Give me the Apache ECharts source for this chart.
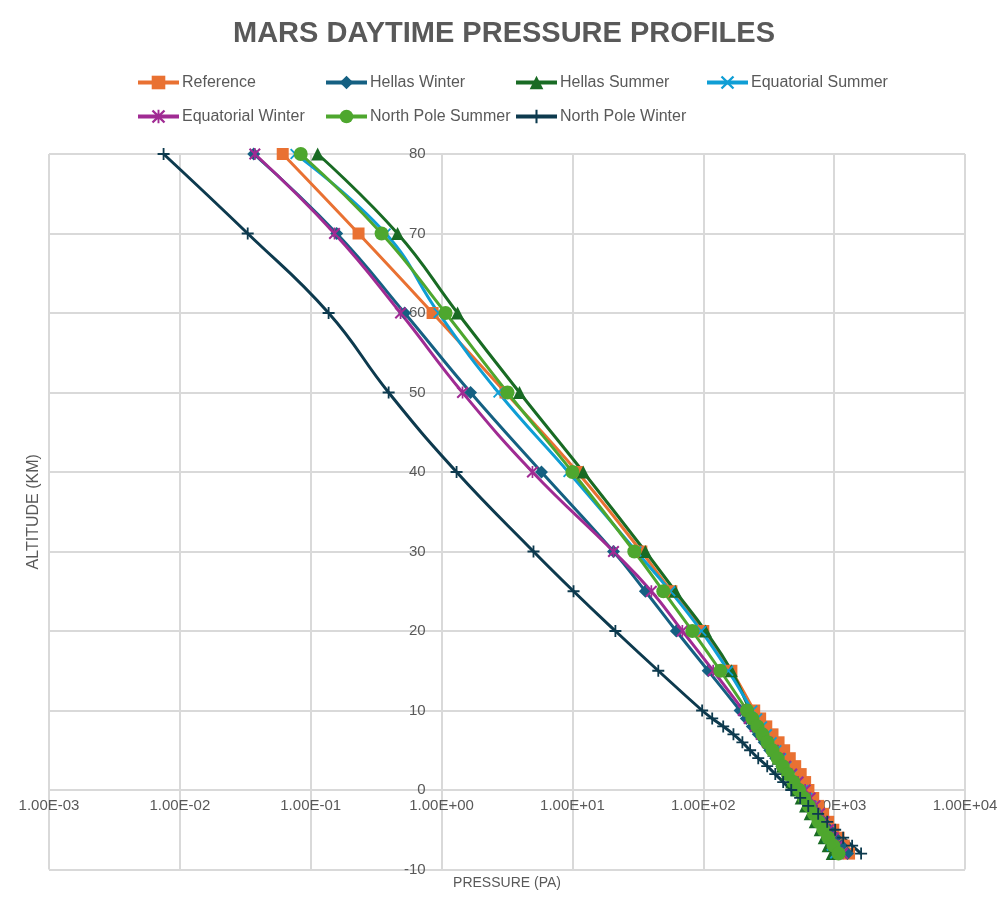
<!DOCTYPE html>
<html><head><meta charset="utf-8">
<script src="https://cdn.jsdelivr.net/npm/echarts@6/dist/echarts.min.js"></script>
<style>html,body{margin:0;padding:0;background:#fff}#c{width:1008px;height:913px}</style>
</head><body><div id="c"></div>
<script>
// Altitude levels (km), shared by all profiles
const altitudes = [80, 70, 60, 50, 40, 30, 25, 20, 15, 10, 9, 8, 7, 6, 5, 4, 3, 2, 1, 0, -1, -2, -3, -4, -5, -6, -7, -8];

// Pressure values (Pa)
const reference        = [0.0611, 0.232, 0.854, 3.08, 10.9, 33.6, 57, 100, 164, 245, 272, 303, 338, 376, 415, 458, 504, 555, 600, 636, 692, 755, 824, 900, 985, 1080, 1185, 1300];
const hellasWinter     = [0.0367, 0.158, 0.522, 1.665, 5.80, 20.6, 36.1, 62.2, 109, 191, 213, 237, 263, 292, 322, 357, 398, 442, 490, 545, 605, 672, 748, 830, 922, 1025, 1140, 1265];
const hellasSummer     = [0.113, 0.461, 1.325, 3.94, 12.1, 36.1, 61.1, 104, 164, 228, 248, 270, 293, 318, 345, 373, 403, 436, 474, 518, 560, 605, 656, 716, 782, 839, 900, 966];
const equatorialSummer = [0.0765, 0.374, 0.949, 2.72, 9.32, 30.8, 56, 96.6, 155, 237, 258, 281, 306, 333, 362, 394, 432, 478, 527, 580, 625, 672, 722, 776, 834, 896, 958, 1018];
const equatorialWinter = [0.0374, 0.152, 0.486, 1.446, 4.95, 20.6, 40.1, 69.2, 119, 202, 224, 249, 277, 308, 343, 382, 425, 473, 530, 600, 655, 712, 772, 836, 905, 985, 1070, 1160];
const northPoleSummer  = [0.0839, 0.348, 1.073, 3.19, 10.0, 29.7, 49.5, 82.4, 135, 216, 237, 259, 283, 309, 338, 370, 405, 443, 489, 540, 590, 642, 700, 760, 828, 902, 988, 1080];
const northPoleWinter  = [0.00751, 0.0330, 0.137, 0.394, 1.302, 5.04, 10.2, 21.3, 45.3, 98, 117, 142, 170, 199, 228, 263, 308, 355, 408, 470, 550, 634, 755, 885, 1018, 1172, 1372, 1607];

const seriesNames = ['Reference', 'Hellas Winter', 'Hellas Summer', 'Equatorial Summer', 'Equatorial Winter', 'North Pole Summer', 'North Pole Winter'];
const seriesValues = [reference, hellasWinter, hellasSummer, equatorialSummer, equatorialWinter, northPoleSummer, northPoleWinter];

// Axis tick labels
const xTickLabels = ['1.00E-03', '1.00E-02', '1.00E-01', '1.00E+00', '1.00E+01', '1.00E+02', '1.00E+03', '1.00E+04'];

const titleText = 'MARS DAYTIME PRESSURE PROFILES';
const xName = 'PRESSURE (PA)';
const yName = 'ALTITUDE (KM)';

// ---- styling ----
const colors = ['#E97132', '#156082', '#196B24', '#0F9ED5', '#A02B93', '#4EA72E', '#0D3A4E'];
const X_PATH = 'path://M0,1.2 L1.2,0 L5,3.8 L8.8,0 L10,1.2 L6.2,5 L10,8.8 L8.8,10 L5,6.2 L1.2,10 L0,8.8 L3.8,5 Z';
const STAR_PATH = 'path://M0,1.2 L1.2,0 L5,3.8 L8.8,0 L10,1.2 L6.2,5 L10,8.8 L8.8,10 L5,6.2 L1.2,10 L0,8.8 L3.8,5 Z M4.3,0 L5.7,0 L5.7,10 L4.3,10 Z';
const PLUS_PATH = 'path://M4.25,0 L5.75,0 L5.75,4.25 L10,4.25 L10,5.75 L5.75,5.75 L5.75,10 L4.25,10 L4.25,5.75 L0,5.75 L0,4.25 L4.25,4.25 Z';
const symbols = ['rect', 'diamond', 'triangle', X_PATH, STAR_PATH, 'circle', PLUS_PATH];
const symbolSizes = [12, 13, 13, 11, 12, 14, 12];

const FONT = '"Liberation Sans", Arial, sans-serif';
const TEXT = '#595959';
const GRID_COLOR = '#D9D9D9';

const gridLeft = 49, gridTop = 154, gridWidth = 916, gridHeight = 715.5;

const legendCols = [137, 325, 515, 706];
const legendRows = [83, 117];
const legendPos = [[0,0],[1,0],[2,0],[3,0],[0,1],[1,1],[2,1]];
const LEG_H = 17;

const legends = seriesNames.map((n, i) => ({
  data: [n],
  left: legendCols[legendPos[i][0]] - 6,
  top: legendRows[legendPos[i][1]] - LEG_H / 2 - 5,
  itemWidth: 41,
  itemHeight: LEG_H,
  selectedMode: false,
  lineStyle: { width: 4 },
  textStyle: { fontSize: 16, color: TEXT, fontFamily: FONT, padding: [0, 0, 0, -2] }
}));

const chart = echarts.init(document.getElementById('c'), null, { renderer: 'canvas' });
chart.setOption({
  animation: false,
  backgroundColor: '#fff',
  title: {
    text: titleText,
    left: 'center',
    top: 14,
    textStyle: { fontSize: 29, fontWeight: 'bold', color: TEXT, fontFamily: FONT }
  },
  legend: legends,
  grid: { left: gridLeft, top: gridTop, width: gridWidth, height: gridHeight, containLabel: false },
  xAxis: {
    type: 'log',
    logBase: 10,
    min: 0.001,
    max: 10000,
    splitNumber: 7,
    position: 'bottom',
    offset: -(gridHeight / 9),
    axisLine: { show: false },
    axisTick: { show: false },
    axisLabel: {
      margin: 8,
      fontSize: 15,
      color: TEXT,
      fontFamily: FONT,
      formatter: v => xTickLabels[Math.round(Math.log10(v)) + 3]
    },
    splitLine: { show: true, lineStyle: { color: GRID_COLOR, width: 2 } },
    name: xName,
    nameLocation: 'middle',
    nameGap: 86,
    nameTextStyle: { fontSize: 14, color: TEXT, fontFamily: FONT }
  },
  yAxis: {
    type: 'value',
    min: -10,
    max: 80,
    interval: 10,
    position: 'left',
    offset: -(gridWidth * 3 / 7),
    axisLine: { show: false },
    axisTick: { show: false },
    axisLabel: { margin: 16, fontSize: 15, color: TEXT, fontFamily: FONT },
    splitLine: { show: true, lineStyle: { color: GRID_COLOR, width: 2 } },
    name: yName,
    nameLocation: 'middle',
    nameGap: 400,
    nameTextStyle: { fontSize: 16, color: TEXT, fontFamily: FONT }
  },
  series: seriesNames.map((n, i) => ({
    name: n,
    type: 'line',
    data: altitudes.map((a, k) => [seriesValues[i][k], a]),
    smooth: 0.45,
    symbol: symbols[i],
    symbolSize: symbolSizes[i],
    showAllSymbol: true,
    color: colors[i],
    lineStyle: { width: 3, color: colors[i] },
    itemStyle: { color: colors[i] },
    emphasis: { disabled: true }
  }))
});
</script>
</body></html>
